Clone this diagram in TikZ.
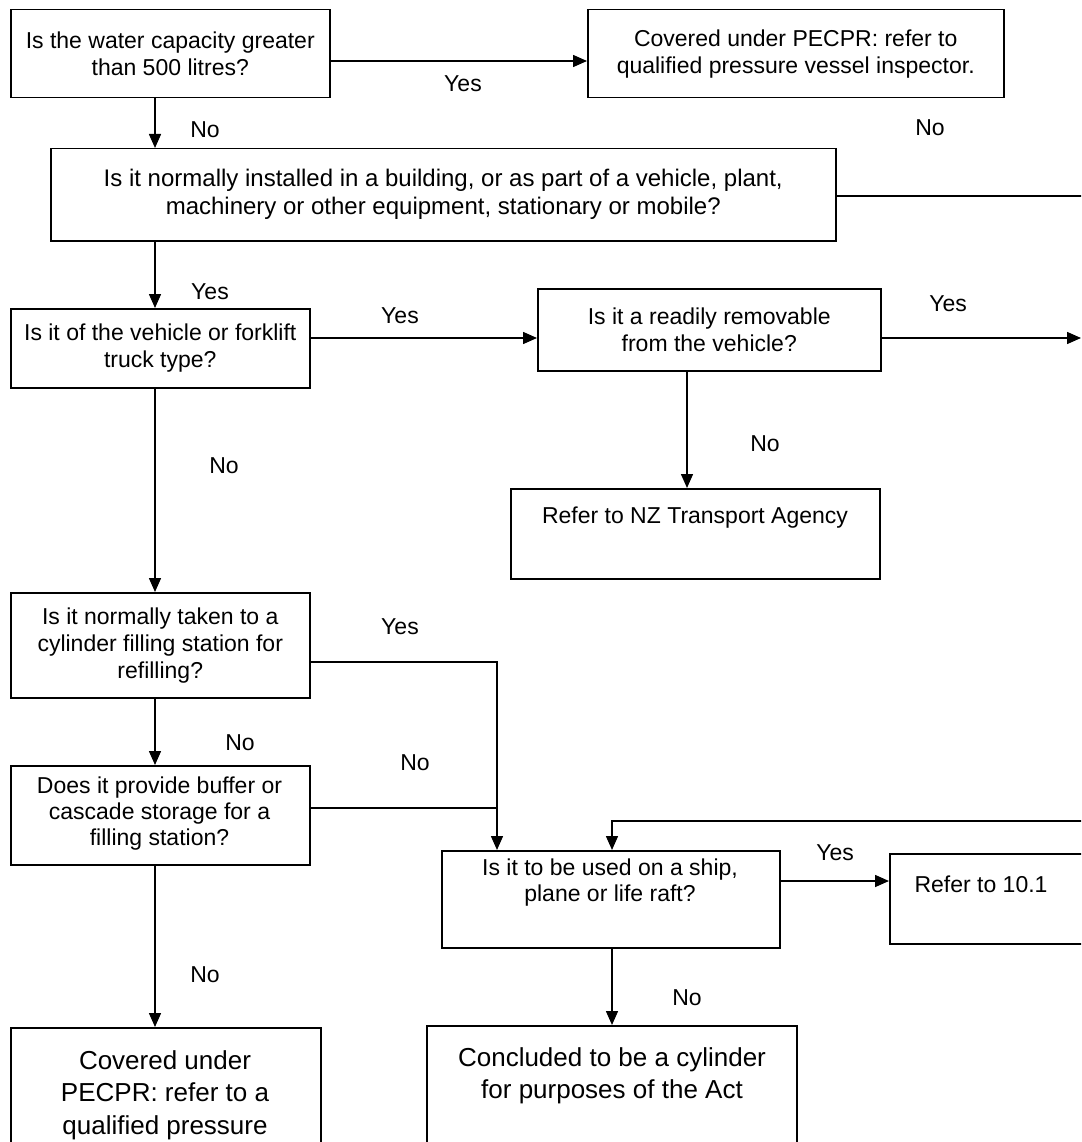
\documentclass[tikz,border=0pt]{standalone}
\usepackage{fontspec}
\setmainfont{Liberation Sans}
\usetikzlibrary{arrows.meta}
\begin{document}
\begin{tikzpicture}[x=1pt,y=-1pt,
  box/.style={draw, line width=1.5pt, anchor=north west, inner sep=0pt, align=center, font=\fontsize{23}{27}\selectfont},
  txt/.style={align=center, font=\fontsize{23}{26}\selectfont, inner sep=0pt},
  bigtxt/.style={align=center, font=\fontsize{26}{32.5}\selectfont, inner sep=0pt, anchor=north},
  lbl/.style={font=\fontsize{23}{26}\selectfont, inner sep=0pt},
  arr/.style={line width=1.5pt, -{Triangle[length=14pt,width=12pt]}},
  ln/.style={line width=1.5pt}]
\useasboundingbox (0,0) rectangle (1081,1142);
\clip (0,0) rectangle (1081,1142);
% boxes
\node[box, minimum width=319pt, minimum height=88pt] (b1) at (10,9) {Is the water capacity greater\\than 500 litres?};
\node[box, minimum width=416pt, minimum height=88pt] (b2) at (587,9) {Covered under PECPR: refer to\\qualified pressure vessel inspector.};
\node[box, minimum width=785pt, minimum height=92pt, font=\fontsize{24}{28}\selectfont] (b3) at (50,148) {Is it normally installed in a building, or as part of a vehicle, plant,\\machinery or other equipment, stationary or mobile?};
\node[box, minimum width=299pt, minimum height=79pt] (b4) at (10,308) {Is it of the vehicle or forklift\\truck type?};
\node[box, minimum width=343pt, minimum height=82pt] (b5) at (537,288) {Is it a readily removable\\from the vehicle?};
\node[box, minimum width=369pt, minimum height=90pt] (b6) at (510,488) {};
\node[txt] (t6) at (695,518) {Refer to NZ Transport Agency};
\node[box, minimum width=299pt, minimum height=105pt] (b7) at (10,592) {Is it normally taken to a\\cylinder filling station for\\refilling?};
\node[box, minimum width=299pt, minimum height=99pt] (b8) at (10,765) {};
\node[txt, anchor=north] (t8) at (159.5,777) {Does it provide buffer or\\cascade storage for a\\filling station?};
\node[box, minimum width=310pt, minimum height=200pt] (b9) at (10,1027) {};
\node[bigtxt] (t9) at (165,1050) {Covered under\\PECPR: refer to a\\qualified pressure\\vessel inspector.};
\node[box, minimum width=338pt, minimum height=97pt] (b10) at (441,850) {};
\node[txt] (t10) at (610,883) {Is it to be used on a ship,\\plane or life raft?};
\node[box, minimum width=300pt, minimum height=90pt] (b11) at (889,853) {};
\node[txt] (t11) at (981,884) {Refer to 10.1};
\node[box, minimum width=370pt, minimum height=200pt] (b12) at (426,1025) {};
\node[bigtxt] (t12) at (612,1047) {Concluded to be a cylinder\\for purposes of the Act};
% free ends
\coordinate (r1) at (1090,196);
\coordinate (r2) at (1081,338);
\coordinate (r3) at (1090,821);
% connectors
\draw[arr] (b1.east|-0,61) -- (b2.west|-0,61);
\draw[arr] (b1.south-|155,0) -- (b3.north-|155,0);
\draw[ln] (b3.east|-r1) -- (r1);
\draw[arr] (b3.south-|155,0) -- (b4.north-|155,0);
\draw[arr] (b4.east|-0,338) -- (b5.west|-0,338);
\draw[arr] (b5.east|-r2) -- (r2);
\draw[arr] (b5.south-|687,0) -- (b6.north-|687,0);
\draw[arr] (b4.south-|155,0) -- (b7.north-|155,0);
\draw[arr] (b7.east|-0,662) -| (b10.north-|497,0);
\draw[arr] (b7.south-|155,0) -- (b8.north-|155,0);
\draw[ln] (b8.east|-0,808) -- (497,808);
\draw[arr] (r3) -| (b10.north-|612,0);
\draw[arr] (b10.east|-0,881) -- (b11.west|-0,881);
\draw[arr] (b10.south-|612,0) -- (b12.north-|612,0);
\draw[arr] (b8.south-|155,0) -- (b9.north-|155,0);
% labels
\node[lbl] (l1) at (463,84) {Yes};
\node[lbl] (l2) at (205,130) {No};
\node[lbl] (l3) at (930,128) {No};
\node[lbl] (l4) at (210,292) {Yes};
\node[lbl] (l5) at (400,316) {Yes};
\node[lbl] (l6) at (948,304) {Yes};
\node[lbl] (l7) at (765,444) {No};
\node[lbl] (l8) at (224,466) {No};
\node[lbl] (l9) at (400,627) {Yes};
\node[lbl] (l10) at (240,743) {No};
\node[lbl] (l11) at (415,763) {No};
\node[lbl] (l12) at (835,853) {Yes};
\node[lbl] (l13) at (687,998) {No};
\node[lbl] (l14) at (205,975) {No};
\end{tikzpicture}
\end{document}
